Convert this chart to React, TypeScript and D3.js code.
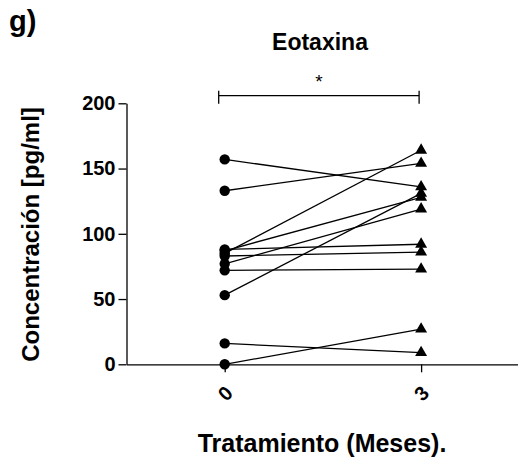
import React, { useEffect, useRef } from "react";
import * as d3 from "d3";

const W = 518;
const H = 467;

const months = [0, 3];
const yTicks = [0, 50, 100, 150, 200];
const xTickLabels = ["0", "3"];
// paired values per subject: [month 0, month 3]
const baseline = [157, 133, 88, 87, 85, 83, 77, 72, 53, 16, 0];
const followUp = [136, 154, 92, 128, 164, 86, 119, 73, 131, 9, 27];

const title = "Eotaxina";
const panel = "g)";
const yTitle = "Concentración [pg/ml]";
const xTitle = "Tratamiento (Meses).";
const sig = "*";

export default function App() {
  const ref = useRef<SVGSVGElement | null>(null);

  useEffect(() => {
    document.body.style.margin = "0";
    const svg = d3.select(ref.current);
    svg.selectAll("*").remove();
    const font = "'Liberation Sans', Arial, sans-serif";

    const x = d3.scaleLinear().domain([-1.5, 4.48]).range([126.5, 518]);
    const y = d3.scaleLinear().domain([0, 200]).range([364.3, 103.3]);

    // panel label
    svg.append("text").attr("x", 9).attr("y", 31).attr("font-family", font)
      .attr("font-weight", "bold").attr("font-size", 29).text(panel);

    // title
    svg.append("text").attr("x", 320).attr("y", 50).attr("text-anchor", "middle")
      .attr("font-family", font).attr("font-weight", "bold").attr("font-size", 23).text(title);

    // significance bar
    const by = 95.7;
    const bx0 = x(0) - 6, bx1 = x(3) - 2;
    const g = svg.append("g").attr("stroke", "#000").attr("stroke-width", 1.3).attr("fill", "none");
    g.append("line").attr("x1", bx0).attr("x2", bx1).attr("y1", by).attr("y2", by);
    g.append("line").attr("x1", bx0).attr("x2", bx0).attr("y1", by - 5).attr("y2", by + 8);
    g.append("line").attr("x1", bx1).attr("x2", bx1).attr("y1", by - 5).attr("y2", by + 8);
    svg.append("text").attr("x", (bx0 + bx1) / 2).attr("y", 88).attr("text-anchor", "middle")
      .attr("font-family", font).attr("font-size", 19).text(sig);

    // y axis
    const ya = svg.append("g").attr("transform", `translate(${x(-1.5)},0)`)
      .call(d3.axisLeft(y).tickValues(yTicks).tickSize(8).tickPadding(3).tickSizeOuter(0));
    ya.select(".domain").attr("stroke-width", 1.3);
    ya.selectAll(".tick line").attr("stroke-width", 1.3);
    ya.selectAll(".tick text").attr("font-family", font).attr("font-weight", "bold")
      .attr("font-size", 20).attr("fill", "#000");

    // x axis
    const xa = svg.append("g").attr("transform", `translate(0,${y(0)})`)
      .call(d3.axisBottom(x).tickValues(months).tickSize(8).tickSizeOuter(0).tickFormat((d, i) => xTickLabels[i]));
    xa.select(".domain").attr("stroke-width", 1.3);
    xa.selectAll(".tick line").attr("stroke-width", 1.3);
    xa.selectAll(".tick text").attr("font-family", font).attr("font-weight", "bold")
      .attr("font-size", 20).attr("fill", "#000")
      .attr("y", 0).attr("dy", 0)
      .attr("transform", "translate(0,29) rotate(-45)")
      .attr("text-anchor", "middle").attr("dominant-baseline", "central");

    // paired lines
    const lines = svg.append("g");
    baseline.forEach((v, i) => {
      lines.append("line").attr("x1", x(months[0])).attr("y1", y(v))
        .attr("x2", x(months[1])).attr("y2", y(followUp[i]))
        .attr("stroke", "#000").attr("stroke-width", 1.3);
    });

    // markers
    svg.append("g").selectAll("circle").data(baseline).join("circle")
      .attr("cx", x(months[0])).attr("cy", (d) => y(d)).attr("r", 5.2).attr("fill", "#000");
    const tri = d3.symbol().type(d3.symbolTriangle).size(62);
    svg.append("g").selectAll("path").data(followUp).join("path")
      .attr("d", tri as any)
      .attr("transform", (d) => `translate(${x(months[1])},${y(d)})`).attr("fill", "#000");

    // axis titles
    svg.append("text").attr("transform", `translate(39,234.5) rotate(-90)`)
      .attr("text-anchor", "middle").attr("font-family", font).attr("font-weight", "bold")
      .attr("font-size", 24).text(yTitle);
    svg.append("text").attr("x", 322).attr("y", 452).attr("text-anchor", "middle")
      .attr("font-family", font).attr("font-weight", "bold").attr("font-size", 25).text(xTitle);
  }, []);

  return <svg ref={ref} width={W} height={H} style={{ display: "block", background: "#fff" }} />;
}
